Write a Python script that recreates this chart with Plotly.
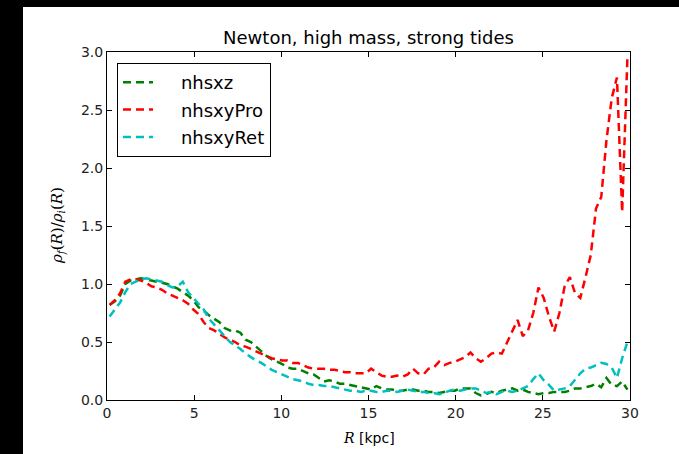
import plotly.graph_objects as go

R = [0.15, 0.45, 0.75, 1.05, 1.35, 1.65, 1.95, 2.25, 2.55, 2.85,
     3.15, 3.45, 3.75, 4.05, 4.35, 4.65, 4.95, 5.25, 5.55, 5.85,
     6.15, 6.45, 6.75, 7.05, 7.35, 7.65, 7.95, 8.25, 8.55, 8.85,
     9.15, 9.45, 9.75, 10.05, 10.35, 10.65, 10.95, 11.25, 11.55, 11.85,
     12.15, 12.45, 12.75, 13.05, 13.35, 13.65, 13.95, 14.25, 14.55, 14.85,
     15.15, 15.45, 15.75, 16.05, 16.35, 16.65, 16.95, 17.25, 17.55, 17.85,
     18.15, 18.45, 18.75, 19.05, 19.35, 19.65, 19.95, 20.25, 20.55, 20.85,
     21.15, 21.45, 21.75, 22.05, 22.35, 22.65, 22.95, 23.25, 23.55, 23.85,
     24.15, 24.45, 24.75, 25.05, 25.35, 25.65, 25.95, 26.25, 26.55, 26.85,
     27.15, 27.45, 27.75, 28.05, 28.35, 28.65, 28.95, 29.25, 29.55, 29.85]

nhsxz = [0.82, 0.85, 0.90, 1.00, 1.03, 1.04, 1.05, 1.04, 1.03, 1.02,
         1.01, 1.00, 0.98, 0.96, 0.93, 0.90, 0.86, 0.80, 0.77, 0.73,
         0.70, 0.67, 0.62, 0.60, 0.60, 0.58, 0.52, 0.50, 0.46, 0.42,
         0.38, 0.35, 0.33, 0.31, 0.28, 0.27, 0.27, 0.25, 0.23, 0.22,
         0.19, 0.16, 0.17, 0.16, 0.14, 0.14, 0.13, 0.12, 0.11, 0.10,
         0.09, 0.12, 0.10, 0.09, 0.09, 0.08, 0.08, 0.09, 0.09, 0.08,
         0.08, 0.07, 0.07, 0.06, 0.07, 0.08, 0.08, 0.10, 0.10, 0.10,
         0.06, 0.04, 0.05, 0.07, 0.06, 0.08, 0.09, 0.10, 0.08, 0.09,
         0.07, 0.06, 0.05, 0.06, 0.06, 0.07, 0.07, 0.07, 0.08, 0.10,
         0.10, 0.11, 0.12, 0.14, 0.11, 0.19, 0.13, 0.12, 0.16, 0.09]

nhsxyPro = [0.82, 0.86, 0.92, 1.02, 1.04, 1.04, 1.03, 1.01, 0.98, 0.97,
            0.95, 0.92, 0.90, 0.88, 0.86, 0.83, 0.78, 0.74, 0.67, 0.62,
            0.60, 0.57, 0.54, 0.52, 0.50, 0.47, 0.46, 0.44, 0.42, 0.40,
            0.38, 0.36, 0.35, 0.34, 0.34, 0.32, 0.32, 0.30, 0.28, 0.27,
            0.27, 0.27, 0.26, 0.26, 0.25, 0.24, 0.24, 0.23, 0.23, 0.23,
            0.27, 0.24, 0.21, 0.20, 0.20, 0.21, 0.20, 0.22, 0.27, 0.23,
            0.22, 0.27, 0.28, 0.33, 0.30, 0.32, 0.33, 0.35, 0.37, 0.41,
            0.36, 0.33, 0.36, 0.40, 0.41, 0.40, 0.50, 0.60, 0.69, 0.55,
            0.60, 0.75, 0.97, 0.88, 0.72, 0.59, 0.75, 0.98, 1.06, 0.92,
            0.88, 1.06, 1.25, 1.65, 1.75, 2.24, 2.60, 2.78, 1.62, 2.95]

nhsxyRet = [0.72, 0.78, 0.84, 0.93, 1.00, 1.02, 1.04, 1.05, 1.04, 1.03,
            1.02, 0.99, 0.97, 0.98, 1.02, 0.93, 0.88, 0.83, 0.78, 0.70,
            0.65, 0.60, 0.55, 0.50, 0.47, 0.44, 0.40, 0.37, 0.34, 0.32,
            0.29, 0.26, 0.24, 0.22, 0.20, 0.18, 0.17, 0.16, 0.14, 0.13,
            0.13, 0.12, 0.12, 0.11, 0.10, 0.09, 0.08, 0.08, 0.07, 0.08,
            0.08, 0.07, 0.07, 0.08, 0.08, 0.07, 0.08, 0.09, 0.08, 0.07,
            0.07, 0.06, 0.06, 0.05, 0.06, 0.08, 0.09, 0.08, 0.09, 0.10,
            0.10, 0.08, 0.06, 0.07, 0.05, 0.07, 0.08, 0.07, 0.08, 0.10,
            0.12, 0.18, 0.23, 0.17, 0.13, 0.08, 0.09, 0.10, 0.12, 0.18,
            0.23, 0.27, 0.28, 0.30, 0.32, 0.31, 0.28, 0.19, 0.36, 0.50]

x_ticks = [0, 5, 10, 15, 20, 25, 30]
y_ticks = [0.0, 0.5, 1.0, 1.5, 2.0, 2.5, 3.0]

series = [("nhsxz", nhsxz, "#008000"),
          ("nhsxyPro", nhsxyPro, "#ff0000"),
          ("nhsxyRet", nhsxyRet, "#00bfbf")]

W, H = 679, 454
L, Rm, T, B = 107, 49, 52, 54
pw, ph = W - L - Rm, H - T - B

fig = go.Figure()
for i, (name, vals, col) in enumerate(series):
    fig.add_trace(go.Scatter(x=R, y=vals, mode="lines",
                             name="&nbsp;&nbsp;&nbsp;&nbsp;" + name,
                             legendgroup=name,
                             line=dict(color=col, width=2.5, dash="8px,5px")))

font = "DejaVu Sans"
axis_common = dict(showgrid=False, zeroline=False, showline=True, mirror="ticks",
                   linecolor="black", linewidth=1, ticks="inside", ticklen=5,
                   tickcolor="black", tickwidth=1,
                   tickfont=dict(family=font, size=14, color="#222"))

fig.update_xaxes(range=[0, 30], tickvals=x_ticks, ticktext=[str(v) for v in x_ticks],
                 **axis_common)
fig.update_yaxes(range=[0, 3.0], tickvals=y_ticks, ticktext=[f"{v:.1f}" for v in y_ticks],
                 **axis_common)

def px_x(p):
    return (p - L) / pw

def px_y(p):
    return (H - B - p) / ph

fig.update_layout(
    width=W, height=H,
    margin=dict(l=L, r=Rm, t=T, b=B, pad=0),
    paper_bgcolor="white", plot_bgcolor="white",
    font=dict(family=font, color="black"),
    title=dict(text="Newton, high mass, strong tides", x=(L + pw / 2) / W, xanchor="center",
               y=1 - 38 / H, yanchor="middle", font=dict(family=font, size=18, color="black")),
    showlegend=True,
    legend=dict(x=px_x(117), y=px_y(63), xanchor="left", yanchor="top",
                bgcolor="white", bordercolor="black", borderwidth=1,
                font=dict(family=font, size=18, color="black"),
                tracegroupgap=1, traceorder="grouped",
                entrywidth=153, entrywidthmode="pixels"),
    shapes=[
        dict(type="rect", xref="paper", yref="paper", x0=px_x(0), x1=px_x(23),
             y0=px_y(H), y1=px_y(0), fillcolor="black", line=dict(width=0), layer="above"),
        dict(type="rect", xref="paper", yref="paper", x0=px_x(0), x1=px_x(W),
             y0=px_y(7), y1=px_y(0), fillcolor="black", line=dict(width=0), layer="above"),
    ],
    annotations=[
        dict(text="<span style='font-family:DejaVu Serif'><i>R</i></span> [kpc]",
             xref="paper", yref="paper", x=0.5, y=px_y(438), xanchor="center", yanchor="middle",
             showarrow=False, font=dict(family=font, size=14, color="black")),
        dict(text="<span style='font-family:DejaVu Serif'><i>ρ<sub>f</sub></i>(<i>R</i>)/<i>ρ<sub>i</sub></i>(<i>R</i>)</span>",
             xref="paper", yref="paper", x=px_x(57), y=0.5, xanchor="center", yanchor="middle",
             textangle=-90, showarrow=False, font=dict(family=font, size=15, color="black")),
    ],
)

fig.write_html("out.html")
